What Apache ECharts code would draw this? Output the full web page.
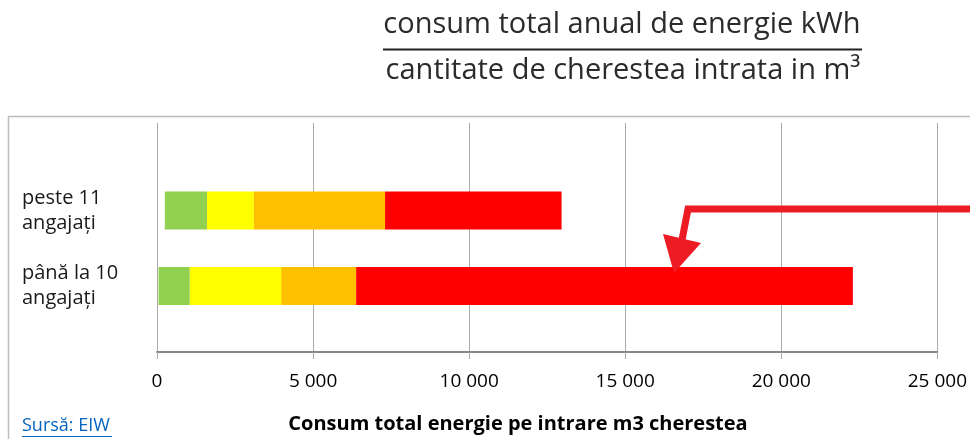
<!DOCTYPE html>
<html>
<head>
<meta charset="utf-8">
<script src="https://cdn.jsdelivr.net/npm/echarts@6/dist/echarts.min.js"></script>
<style>
html,body{margin:0;padding:0;background:#fff;}
#chart{width:970px;height:439px;}
</style>
</head>
<body>
<div id="chart"></div>
<script>
// ---- data ----
const categories = ['până la 10\nangajați', 'peste 11\nangajați'];
const offsetValues = [50, 250];      // empty space before first segment
const greenValues = [1000, 1350];
const yellowValues = [2925, 1500];
const orangeValues = [2400, 4200];
const redValues = [15900, 5650];
const xMin = 0, xMax = 25000, xInterval = 5000;
const titleTop = 'consum total anual de energie kWh';
const titleBottom = 'cantitate de cherestea intrata in m³';
const axisTitle = 'Consum total energie pe intrare m3 cherestea';
const sourceText = 'Sursă: EIW';

const FONT = '"Open Sans", "Noto Sans", sans-serif';
const fmt = v => String(v).replace(/\B(?=(\d{3})+(?!\d))/g, ' ');

const chart = echarts.init(document.getElementById('chart'), null, {renderer: 'canvas'});

function seg(name, data, color) {
  return {
    name, type: 'bar', stack: 'total', xAxisIndex: 1, yAxisIndex: 1,
    data, barWidth: 38, itemStyle: {color}, silent: true
  };
}

const option = {
  animation: false,
  backgroundColor: '#ffffff',
  grid: [
    {left: 157, right: 32, top: 123, bottom: 87},
    {left: 157, right: 32, top: 172.75, bottom: 115.25}
  ],
  xAxis: [
    {
      gridIndex: 0, type: 'value', min: xMin, max: xMax, interval: xInterval,
      axisLine: {show: true, lineStyle: {color: '#868686', width: 2}},
      axisTick: {show: true, length: 7, lineStyle: {color: '#ababab', width: 1}},
      splitLine: {show: true, lineStyle: {color: '#ababab', width: 1}},
      axisLabel: {formatter: fmt, color: '#000', fontSize: 19, fontFamily: FONT, margin: 20}
    },
    {gridIndex: 1, type: 'value', min: xMin, max: xMax, show: false}
  ],
  yAxis: [
    {gridIndex: 0, type: 'value', min: 0, max: 1, show: false},
    {
      gridIndex: 1, type: 'category', data: categories,
      axisLine: {show: false}, axisTick: {show: false}, splitLine: {show: false},
      axisLabel: {align: 'left', margin: 135, fontSize: 20, lineHeight: 25, color: '#1a1a1a', fontFamily: FONT}
    }
  ],
  series: [
    {name: 'offset', type: 'bar', stack: 'total', xAxisIndex: 1, yAxisIndex: 1,
     data: offsetValues, barWidth: 38, itemStyle: {color: 'rgba(0,0,0,0)'}, silent: true},
    seg('verde', greenValues, '#92D050'),
    seg('galben', yellowValues, '#FFFF00'),
    seg('portocaliu', orangeValues, '#FFC000'),
    seg('roșu', redValues, '#FF0000')
  ],
  graphic: [
    {type: 'rect', silent: true, z: 0,
     shape: {x: 8.5, y: 116.5, width: 1000, height: 400},
     style: {fill: null, stroke: '#bdbdbd', lineWidth: 1.5}},
    {type: 'text', x: 622, y: 25, silent: true,
     style: {text: titleTop, fill: '#2b2b2b', font: '29px ' + FONT, align: 'center', verticalAlign: 'middle'}},
    {type: 'line', silent: true,
     shape: {x1: 383, y1: 49.5, x2: 862, y2: 49.5},
     style: {stroke: '#222', lineWidth: 2}},
    {type: 'text', x: 623, y: 71, silent: true,
     style: {text: titleBottom, fill: '#2b2b2b', font: '29px ' + FONT, align: 'center', verticalAlign: 'middle'}},
    {type: 'text', x: 518, y: 424, silent: true,
     style: {text: axisTitle, fill: '#000', font: 'bold 20px ' + FONT, align: 'center', verticalAlign: 'middle'}},
    {type: 'text', x: 22, y: 426, silent: true,
     style: {text: sourceText, fill: '#0563C1', font: '18px ' + FONT, align: 'left', verticalAlign: 'middle'}},
    {type: 'line', silent: true,
     shape: {x1: 22, y1: 436.5, x2: 112, y2: 436.5},
     style: {stroke: '#0563C1', lineWidth: 1}},
    {type: 'polyline', silent: true, z: 10,
     shape: {points: [[980, 209], [688, 209], [682, 240]]},
     style: {stroke: '#ED1C24', lineWidth: 7, fill: null, lineJoin: 'miter'}},
    {type: 'polygon', silent: true, z: 10,
     shape: {points: [[663, 234], [701, 243], [674, 273]]},
     style: {fill: '#ED1C24'}}
  ]
};
chart.setOption(option);
</script>
</body>
</html>
